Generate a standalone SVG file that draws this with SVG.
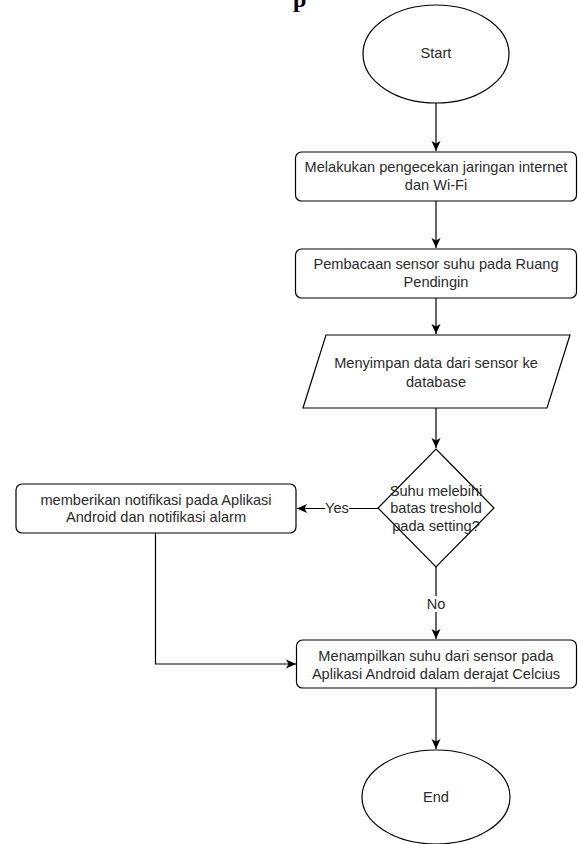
<svg xmlns="http://www.w3.org/2000/svg" width="578" height="844" viewBox="0 0 578 844">
<style>
.s{fill:#fff;stroke:#000;stroke-width:1.2}
.t{font-family:"Liberation Sans",Arial,sans-serif;font-size:14.6px;fill:#2b2b2b;text-anchor:middle}
.c{fill:none;stroke:#000;stroke-width:1.2}
.lb{fill:#fff}
</style>
<defs>
<marker id="a" markerUnits="userSpaceOnUse" markerWidth="12" markerHeight="10" refX="10" refY="5" orient="auto">
<path d="M0,0.5 L10,5 L0,9.5 L2.5,5 z" fill="#000"/>
</marker>
</defs>
<rect width="578" height="844" fill="#fff"/>
<text x="293" y="7" font-family="'Liberation Serif',serif" font-weight="bold" font-size="24" fill="#000">p</text>
<g id="connectors">
<line class="c" x1="436" y1="103" x2="436" y2="151" marker-end="url(#a)"/>
<line class="c" x1="436" y1="201" x2="436" y2="248" marker-end="url(#a)"/>
<line class="c" x1="436" y1="298" x2="436" y2="334" marker-end="url(#a)"/>
<line class="c" x1="436" y1="408" x2="436" y2="448" marker-end="url(#a)"/>
<line class="c" x1="378" y1="508.5" x2="297" y2="508.5" marker-end="url(#a)"/>
<rect class="lb" x="325" y="500" width="24" height="16"/>
<text class="t" x="337" y="513">Yes</text>
<line class="c" x1="436" y1="567" x2="436" y2="639" marker-end="url(#a)"/>
<rect class="lb" x="426" y="596" width="20" height="16"/>
<text class="t" x="436" y="609">No</text>
<polyline class="c" points="155.5,533 155.5,664 296,664" marker-end="url(#a)"/>
<line class="c" x1="436" y1="688" x2="436" y2="749" marker-end="url(#a)"/>
</g>
<g id="start">
<ellipse class="s" cx="436" cy="54" rx="73" ry="49"/>
<text class="t" x="436" y="58">Start</text>
</g>
<g id="cek-jaringan">
<rect class="s" x="295.5" y="152" width="281" height="49" rx="6"/>
<text class="t" x="436" y="172">Melakukan pengecekan jaringan internet</text>
<text class="t" x="436" y="190">dan Wi-Fi</text>
</g>
<g id="baca-sensor">
<rect class="s" x="295.5" y="249" width="281" height="49" rx="6"/>
<text class="t" x="436" y="269">Pembacaan sensor suhu pada Ruang</text>
<text class="t" x="436" y="287">Pendingin</text>
</g>
<g id="simpan-data">
<polygon class="s" points="326,335 570,335 547,408 303,408"/>
<text class="t" x="436" y="368">Menyimpan data dari sensor ke</text>
<text class="t" x="436" y="387">database</text>
</g>
<g id="keputusan">
<polygon class="s" points="436,449 494,508 436,567 378,508"/>
<text class="t" x="436" y="496">Suhu melebihi</text>
<text class="t" x="436" y="513">batas treshold</text>
<text class="t" x="436" y="531">pada setting?</text>
</g>
<g id="notifikasi">
<rect class="s" x="16" y="484" width="280" height="49" rx="6"/>
<text class="t" x="156" y="505">memberikan notifikasi pada Aplikasi</text>
<text class="t" x="156" y="522">Android dan notifikasi alarm</text>
</g>
<g id="tampilkan">
<rect class="s" x="296.5" y="640" width="280" height="48" rx="6"/>
<text class="t" x="436" y="661">Menampilkan suhu dari sensor pada</text>
<text class="t" x="436" y="679">Aplikasi Android dalam derajat Celcius</text>
</g>
<g id="end">
<ellipse class="s" cx="436" cy="797" rx="74" ry="47"/>
<text class="t" x="436" y="802">End</text>
</g>
</svg>
